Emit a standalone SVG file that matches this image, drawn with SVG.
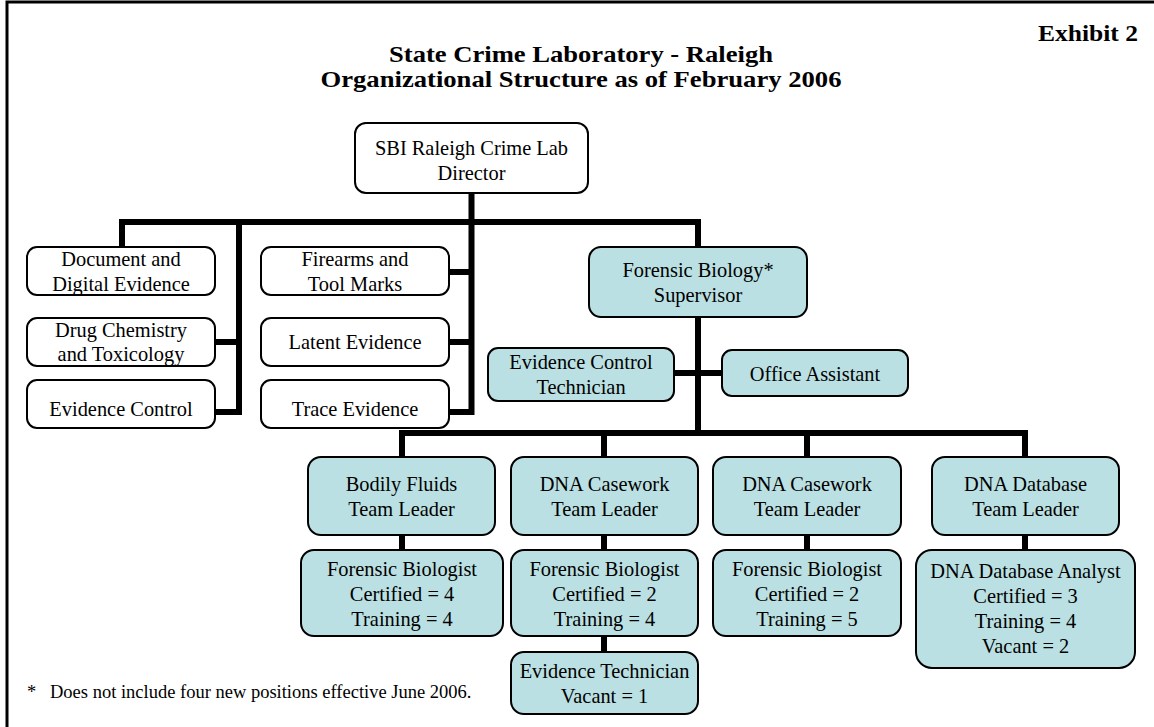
<svg xmlns="http://www.w3.org/2000/svg" width="1154" height="727" viewBox="0 0 1154 727">
<style>
text{font-family:"Liberation Serif","Times New Roman",serif;font-size:20.4px;text-anchor:middle;fill:#000}
.t{font-weight:bold;font-size:24px}
.n rect{stroke:#000;stroke-width:2}
.w rect{fill:#fff}
.b rect{fill:#BBE0E3}
.c path{stroke:#000;stroke-width:6;fill:none;stroke-linejoin:miter;stroke-linecap:butt}
</style>
<rect width="1154" height="727" fill="#fff"/>
<path d="M7,727 V2 H1154" fill="none" stroke="#000" stroke-width="3"/>
<text class="t" x="1138" y="41" style="text-anchor:end" textLength="100" lengthAdjust="spacingAndGlyphs">Exhibit 2</text>
<text class="t" x="581" y="62" textLength="384" lengthAdjust="spacingAndGlyphs">State Crime Laboratory - Raleigh</text>
<text class="t" x="581" y="87" textLength="521" lengthAdjust="spacingAndGlyphs">Organizational Structure as of February 2006</text>
<g id="connectors" class="c">
<path d="M122,247 V222 H698 V247"/>
<path d="M471.5,193 V412 H449"/>
<path d="M449,272 H471.5"/>
<path d="M449,342 H471.5"/>
<path d="M239,222 V412 H215"/>
<path d="M215,342 H239"/>
<path d="M698,317 V433"/>
<path d="M674,373 H722"/>
<path d="M402,457 V433 H1025 V457"/>
<path d="M604,433 V457"/>
<path d="M807,433 V457"/>
<path d="M402,535 V550"/>
<path d="M604,535 V550"/>
<path d="M807,535 V550"/>
<path d="M1025,535 V550"/>
<path d="M604,636 V652"/>
</g>
<g id="director" class="n w"><rect x="355" y="123" width="233" height="70" rx="11"/><text x="471.5" y="155">SBI Raleigh Crime Lab</text><text x="471.5" y="180">Director</text></g>
<g id="document" class="n w"><rect x="27" y="247" width="188" height="48" rx="10"/><text x="121" y="266">Document and</text><text x="121" y="291">Digital Evidence</text></g>
<g id="drug" class="n w"><rect x="27" y="318" width="188" height="48" rx="10"/><text x="121" y="337">Drug Chemistry</text><text x="121" y="361">and Toxicology</text></g>
<g id="evidence-control" class="n w"><rect x="27" y="380" width="188" height="48" rx="10"/><text x="121" y="416">Evidence Control</text></g>
<g id="firearms" class="n w"><rect x="261" y="247" width="188" height="48" rx="10"/><text x="355" y="266">Firearms and</text><text x="355" y="291">Tool Marks</text></g>
<g id="latent" class="n w"><rect x="261" y="318" width="188" height="48" rx="10"/><text x="355" y="349">Latent Evidence</text></g>
<g id="trace" class="n w"><rect x="261" y="380" width="188" height="48" rx="10"/><text x="355" y="416">Trace Evidence</text></g>
<g id="forensic-biology" class="n b"><rect x="589" y="247" width="218" height="70" rx="12"/><text x="698" y="277">Forensic Biology*</text><text x="698" y="302">Supervisor</text></g>
<g id="ev-control-tech" class="n b"><rect x="488" y="348" width="186" height="53" rx="10"/><text x="581" y="369">Evidence Control</text><text x="581" y="394">Technician</text></g>
<g id="office-assistant" class="n b"><rect x="722" y="350" width="186" height="46" rx="10"/><text x="815" y="381">Office Assistant</text></g>
<g id="bodily-fluids" class="n b"><rect x="308" y="457" width="187" height="78" rx="13"/><text x="401.5" y="491">Bodily Fluids</text><text x="401.5" y="516">Team Leader</text></g>
<g id="dna-casework-1" class="n b"><rect x="511" y="457" width="187" height="78" rx="13"/><text x="604.5" y="491">DNA Casework</text><text x="604.5" y="516">Team Leader</text></g>
<g id="dna-casework-2" class="n b"><rect x="713" y="457" width="188" height="78" rx="13"/><text x="807" y="491">DNA Casework</text><text x="807" y="516">Team Leader</text></g>
<g id="dna-database" class="n b"><rect x="932" y="457" width="187" height="78" rx="13"/><text x="1025.5" y="491">DNA Database</text><text x="1025.5" y="516">Team Leader</text></g>
<g id="biologist-1" class="n b"><rect x="301" y="550" width="202" height="86" rx="13"/><text x="402" y="576">Forensic Biologist</text><text x="402" y="601">Certified = 4</text><text x="402" y="626">Training = 4</text></g>
<g id="biologist-2" class="n b"><rect x="511" y="550" width="187" height="86" rx="13"/><text x="604.5" y="576">Forensic Biologist</text><text x="604.5" y="601">Certified = 2</text><text x="604.5" y="626">Training = 4</text></g>
<g id="biologist-3" class="n b"><rect x="713" y="550" width="188" height="86" rx="13"/><text x="807" y="576">Forensic Biologist</text><text x="807" y="601">Certified = 2</text><text x="807" y="626">Training = 5</text></g>
<g id="db-analyst" class="n b"><rect x="916" y="550" width="219" height="118" rx="16"/><text x="1025.5" y="578">DNA Database Analyst</text><text x="1025.5" y="603">Certified = 3</text><text x="1025.5" y="628">Training = 4</text><text x="1025.5" y="653">Vacant = 2</text></g>
<g id="evidence-tech" class="n b"><rect x="511" y="652" width="187" height="62" rx="13"/><text x="604.5" y="678">Evidence Technician</text><text x="604.5" y="703">Vacant = 1</text></g>
<g id="footnote"><text x="27" y="698" style="text-anchor:start;font-size:18.5px">*</text><text x="50" y="698" style="text-anchor:start;font-size:18.5px">Does not include four new positions effective June 2006.</text></g>
</svg>
